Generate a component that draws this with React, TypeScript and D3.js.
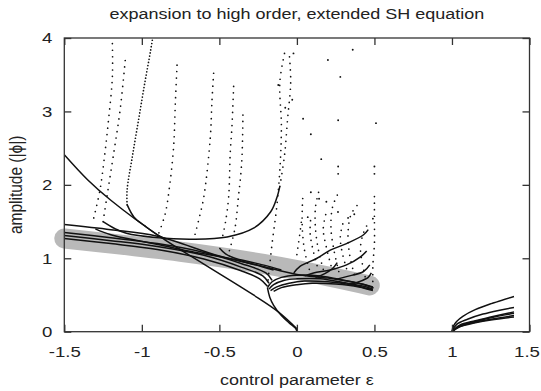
import { useEffect, useRef } from "react";
import * as d3 from "d3";

type Pt = [number, number];

const WIDTH = 541;
const HEIGHT = 391;

const xTicks = [-1.5, -1, -0.5, 0, 0.5, 1, 1.5];
const yTicks = [0, 1, 2, 3, 4];

// grey guide band (leading-order result)
const band: Pt[] = [[-1.5, 1.27], [0, 0.84], [0.47, 0.63]];

// solid branches
const diagonal: Pt[] = [[-1.5, 2.41], [-1.35, 2.07], [-1.2, 1.79], [-0.88, 1.29], [-0.6, 0.92], [-0.28, 0.5], [-0.12, 0.27], [0, 0.04]];
const cuspDown: Pt[] = [[-0.19, 0.6], [-0.175, 0.47], [-0.15, 0.36], [-0.1, 0.22], [-0.05, 0.12], [-0.01, 0.05], [0, 0.01]];
const uCurve: Pt[] = [[-1.25, 1.5], [-1.17, 1.4], [-1.1, 1.34], [-0.9, 1.28], [-0.67, 1.26], [-0.45, 1.29], [-0.28, 1.41], [-0.17, 1.63], [-0.13, 1.82], [-0.11, 1.98]];
const bracket: Pt[] = [[-1.095, 1.73], [-1.05, 1.56], [-0.98, 1.44], [-0.9, 1.32], [-0.84, 1.26]];
const lowHook: Pt[] = [[-1.3, 1.4], [-1.2, 1.32], [-1.0, 1.23], [-0.88, 1.18], [-0.7, 1.1], [-0.49, 1.02], [-0.3, 0.93], [-0.15, 0.84]];
const hookMid: Pt[] = [[-0.5, 1.14], [-0.46, 1.06], [-0.4, 1.0], [-0.3, 0.95], [-0.2, 0.9], [-0.1, 0.84]];
const fan1: Pt[] = [[-1.5, 1.46], [-1.2, 1.39], [-0.9, 1.3], [-0.5, 1.03], [-0.24, 0.9], [0, 0.78], [0.2, 0.73], [0.4, 0.66], [0.49, 0.61]];
const fan2: Pt[] = [[-1.5, 1.35], [-1.2, 1.28], [-0.9, 1.2], [-0.6, 1.08], [-0.36, 0.93], [-0.2, 0.8], [-0.16, 0.7]];
const fan3: Pt[] = [[-1.5, 1.31], [-1.2, 1.24], [-0.9, 1.16], [-0.6, 1.04], [-0.36, 0.88], [-0.22, 0.76], [-0.18, 0.66]];
const fan4: Pt[] = [[-1.5, 1.27], [-1.2, 1.2], [-0.9, 1.12], [-0.6, 0.99], [-0.36, 0.83], [-0.24, 0.72], [-0.19, 0.62]];
const tree1: Pt[] = [[-0.19, 0.6], [-0.16, 0.68], [-0.1, 0.74], [0, 0.77], [0.15, 0.76], [0.3, 0.7], [0.45, 0.63], [0.49, 0.6]];
const tree2: Pt[] = [[-0.18, 0.58], [-0.15, 0.64], [-0.08, 0.7], [0, 0.72], [0.15, 0.72], [0.3, 0.67], [0.45, 0.61], [0.49, 0.58]];
const tree3: Pt[] = [[-0.17, 0.56], [-0.13, 0.61], [-0.05, 0.66], [0.05, 0.69], [0.2, 0.68], [0.35, 0.64], [0.49, 0.57]];
const tree4: Pt[] = [[-0.15, 0.55], [-0.1, 0.6], [0, 0.64], [0.1, 0.66], [0.25, 0.65], [0.4, 0.61], [0.49, 0.56]];
const rise1: Pt[] = [[-0.02, 0.8], [0.02, 0.89], [0.13, 1.0], [0.215, 1.11], [0.32, 1.2], [0.43, 1.32], [0.46, 1.39]];
const rise2: Pt[] = [[0.05, 0.76], [0.107, 0.8], [0.215, 0.84], [0.32, 0.91], [0.41, 1.02], [0.45, 1.1]];
const rise3: Pt[] = [[0.25, 0.71], [0.32, 0.75], [0.43, 0.82], [0.47, 0.91]];
const rise4: Pt[] = [[0.33, 0.64], [0.4, 0.68], [0.46, 0.74], [0.48, 0.8]];
const rise5: Pt[] = [[0.12, 0.74], [0.18, 0.79], [0.23, 0.86], [0.26, 0.94]];
const onset1: Pt[] = [[1, 0], [1.01, 0.08], [1.03, 0.14], [1.07, 0.21], [1.15, 0.3], [1.25, 0.38], [1.4, 0.48]];
const onset2: Pt[] = [[1, 0], [1.03, 0.1], [1.1, 0.17], [1.2, 0.24], [1.3, 0.29], [1.4, 0.33]];
const onset3: Pt[] = [[1, 0], [1.05, 0.09], [1.15, 0.15], [1.25, 0.2], [1.4, 0.27]];
const onset4: Pt[] = [[1, 0], [1.05, 0.08], [1.15, 0.14], [1.25, 0.19], [1.4, 0.25]];
const onset5: Pt[] = [[1, 0], [1.05, 0.07], [1.15, 0.13], [1.25, 0.17], [1.4, 0.22]];
const onset6: Pt[] = [[1, 0], [1.05, 0.065], [1.15, 0.12], [1.25, 0.16], [1.4, 0.2]];

// dotted branches
const dotBracket: Pt[] = [[-1.095, 1.73], [-1.095, 1.93], [-1.06, 2.4], [-1.02, 2.9], [-0.98, 3.4], [-0.945, 3.81], [-0.93, 4.0]];
const dotA: Pt[] = [[-1.31, 1.55], [-1.27, 1.93], [-1.24, 2.4], [-1.215, 2.88], [-1.19, 3.47], [-1.19, 3.93]];
const dotB: Pt[] = [[-1.25, 1.5], [-1.225, 1.84], [-1.18, 2.45], [-1.14, 3.02], [-1.106, 3.72]];
const dotC: Pt[] = [[-0.773, 3.63], [-0.784, 3.11], [-0.795, 2.52], [-0.82, 2.0], [-0.85, 1.6], [-0.9, 1.29]];
const dotD: Pt[] = [[-0.537, 3.52], [-0.548, 3.13], [-0.559, 2.63], [-0.6, 1.84], [-0.63, 1.55], [-0.66, 1.3]];
const dotE: Pt[] = [[-0.408, 3.34], [-0.419, 2.79], [-0.43, 2.43], [-0.44, 1.84], [-0.46, 1.5], [-0.48, 1.29]];
const dotF: Pt[] = [[-0.348, 2.95], [-0.354, 2.38], [-0.365, 2.07], [-0.376, 1.86], [-0.4, 1.4], [-0.44, 1.07]];
const dotG: Pt[] = [[-0.11, 1.98], [-0.08, 2.4], [-0.06, 2.9], [-0.04, 3.4], [-0.05, 3.8]];
const dotH: Pt[] = [[-0.08, 3.79], [-0.11, 3.4], [-0.1, 2.8], [-0.11, 2.2], [-0.13, 1.7], [-0.16, 1.2], [-0.19, 0.62]];
const dotI: Pt[] = [[0.08, 0.85], [0.05, 1.1], [0.035, 1.4], [0.035, 1.7], [0.04, 1.9]];
const dotJ: Pt[] = [[0.17, 0.85], [0.14, 1.1], [0.12, 1.4], [0.12, 1.7], [0.14, 1.9]];
const dotK: Pt[] = [[0.27, 0.82], [0.24, 1.1], [0.22, 1.4], [0.23, 1.7], [0.27, 1.9]];
const dotL: Pt[] = [[0.37, 0.78], [0.34, 1.05], [0.33, 1.35], [0.35, 1.6], [0.4, 1.75]];
const dotM: Pt[] = [[0.49, 0.6], [0.49, 0.9], [0.5, 1.2], [0.5, 1.5], [0.5, 1.9]];
const dotN: Pt[] = [[0.0, 1.05], [0.01, 1.2], [0.02, 1.35], [0.03, 1.52]];
const dotO: Pt[] = [[0.13, 0.9], [0.1, 1.15], [0.085, 1.35], [0.09, 1.56]];
const dotP: Pt[] = [[0.22, 0.9], [0.19, 1.15], [0.17, 1.4], [0.19, 1.63]];
const dotQ: Pt[] = [[0.32, 0.86], [0.29, 1.1], [0.28, 1.3], [0.3, 1.5]];
const dotR: Pt[] = [[0.44, 0.75], [0.42, 0.95], [0.41, 1.15], [0.43, 1.35], [0.46, 1.48]];

// isolated points higher up
const looseDots: Pt[] = [
  [0.04, 2.9], [0.09, 2.69], [0.157, 2.35], [0.2, 3.7], [0.28, 3.47], [0.36, 3.84],
  [0.266, 2.88], [0.51, 2.84], [0.266, 2.25], [0.266, 2.15], [0.5, 2.25], [0.5, 2.15],
  [0.09, 1.9], [0.143, 1.81], [0.19, 1.77], [0.07, 1.56], [0.265, 1.63], [0.33, 1.55],
  [0.37, 1.6], [0.49, 1.54], [-0.022, 3.79], [-0.03, 3.16], [-0.075, 3.05], [-0.12, 3.36],
];

const solidCurves = [diagonal, cuspDown, uCurve, bracket, lowHook, hookMid, fan1, fan2, fan3, fan4, tree1, tree2, tree3, tree4, rise1, rise2, rise3, rise4, rise5, onset1, onset2, onset3, onset4, onset5, onset6];
const denseDotted = [dotBracket];
const sparseDotted = [dotA, dotB, dotC, dotD, dotE, dotF, dotG, dotH, dotI, dotJ, dotK, dotL, dotM, dotN, dotO, dotP, dotQ, dotR];

const FONT = "'Liberation Sans', Arial, sans-serif";
const STRETCH = "scale(1.2,1)"; // the figure's lettering is drawn wide

const App = () => {
  const svgRef = useRef<SVGSVGElement | null>(null);

  useEffect(() => {
    if (!svgRef.current) return;
    const margin = { top: 38, right: 11.5, bottom: 59.3, left: 64.3 };
    const innerWidth = WIDTH - margin.left - margin.right;
    const innerHeight = HEIGHT - margin.top - margin.bottom;

    const svg = d3.select(svgRef.current);
    svg.selectAll("*").remove();

    const x = d3.scaleLinear().domain([-1.5, 1.5]).range([0, innerWidth]);
    const y = d3.scaleLinear().domain([0, 4]).range([innerHeight, 0]);

    const line = d3
      .line<Pt>()
      .x((d) => x(d[0]))
      .y((d) => y(d[1]))
      .curve(d3.curveCatmullRom.alpha(0.5));

    const g = svg.append("g").attr("transform", `translate(${margin.left},${margin.top})`);

    g.append("defs")
      .append("clipPath")
      .attr("id", "plot-clip")
      .append("rect")
      .attr("width", innerWidth)
      .attr("height", innerHeight);

    // grey band (unclipped so its round cap shows on the left)
    g.append("path")
      .attr("d", d3.line<Pt>().x((d) => x(d[0])).y((d) => y(d[1])).curve(d3.curveMonotoneX)(band))
      .attr("fill", "none")
      .attr("stroke", "#b9b9b9")
      .attr("stroke-width", 20)
      .attr("stroke-linecap", "round");

    const plot = g.append("g").attr("clip-path", "url(#plot-clip)");

    plot.selectAll("path.solid")
      .data(solidCurves)
      .join("path")
      .attr("class", "solid")
      .attr("d", (d) => line(d))
      .attr("fill", "none")
      .attr("stroke", "#111")
      .attr("stroke-width", 1.5);

    plot.selectAll("path.dense")
      .data(denseDotted)
      .join("path")
      .attr("class", "dense")
      .attr("d", (d) => line(d))
      .attr("fill", "none")
      .attr("stroke", "#111")
      .attr("stroke-width", 1.7)
      .attr("stroke-linecap", "round")
      .attr("stroke-dasharray", "0 3.2");

    plot.selectAll("path.sparse")
      .data(sparseDotted)
      .join("path")
      .attr("class", "sparse")
      .attr("d", (d) => line(d))
      .attr("fill", "none")
      .attr("stroke", "#111")
      .attr("stroke-width", 1.7)
      .attr("stroke-linecap", "round")
      .attr("stroke-dasharray", "0 6.5");

    plot.selectAll("circle")
      .data(looseDots)
      .join("circle")
      .attr("cx", (d) => x(d[0]))
      .attr("cy", (d) => y(d[1]))
      .attr("r", 0.95)
      .attr("fill", "#111");

    // frame
    g.append("rect")
      .attr("width", innerWidth)
      .attr("height", innerHeight)
      .attr("fill", "none")
      .attr("stroke", "#333")
      .attr("stroke-width", 1.3);

    const tickLen = 7;
    const styleAxis = (axis: d3.Selection<SVGGElement, unknown, null, undefined>) => {
      axis.select(".domain").remove();
      axis.selectAll("line").attr("stroke", "#333").attr("stroke-width", 1.3);
      axis.selectAll("text")
        .attr("fill", "#222")
        .attr("font-size", 15.5)
        .attr("font-family", FONT)
        .attr("transform", STRETCH);
    };

    g.append("g")
      .attr("transform", `translate(0,${innerHeight})`)
      .call(d3.axisBottom(x).tickValues(xTicks).tickSize(-tickLen).tickPadding(14).tickFormat((v) => String(v)))
      .call(styleAxis)
      .call((axis) =>
        axis.selectAll<SVGTextElement, number>("text").filter((v) => v === 1.5).attr("dx", -2.5)
      );
    g.append("g")
      .call(d3.axisTop(x).tickValues(xTicks).tickSize(-tickLen).tickFormat(() => ""))
      .call(styleAxis);
    g.append("g")
      .call(d3.axisLeft(y).tickValues(yTicks).tickSize(-tickLen).tickPadding(10).tickFormat((v) => String(v)))
      .call(styleAxis);
    g.append("g")
      .attr("transform", `translate(${innerWidth},0)`)
      .call(d3.axisRight(y).tickValues(yTicks).tickSize(-tickLen).tickFormat(() => ""))
      .call(styleAxis);

    svg.append("text")
      .attr("transform", `translate(${margin.left + innerWidth / 2}, 19) ${STRETCH}`)
      .attr("text-anchor", "middle")
      .attr("font-family", FONT)
      .attr("font-size", 15)
      .attr("fill", "#222")
      .text("expansion to high order, extended SH equation");

    svg.append("text")
      .attr("transform", `translate(${margin.left + innerWidth / 2}, 385) ${STRETCH}`)
      .attr("text-anchor", "middle")
      .attr("font-family", FONT)
      .attr("font-size", 15)
      .attr("fill", "#222")
      .text("control parameter ε");

    svg.append("text")
      .attr("transform", `translate(22, ${margin.top + innerHeight / 2}) ${STRETCH} rotate(-90)`)
      .attr("text-anchor", "middle")
      .attr("font-family", FONT)
      .attr("font-size", 15.5)
      .attr("fill", "#222")
      .text("amplitude (|ϕ|)");
  }, []);

  return (
    <svg
      ref={svgRef}
      width={WIDTH}
      height={HEIGHT}
      style={{ position: "absolute", left: 0, top: 0, background: "#fff" }}
    />
  );
};

export default App;
